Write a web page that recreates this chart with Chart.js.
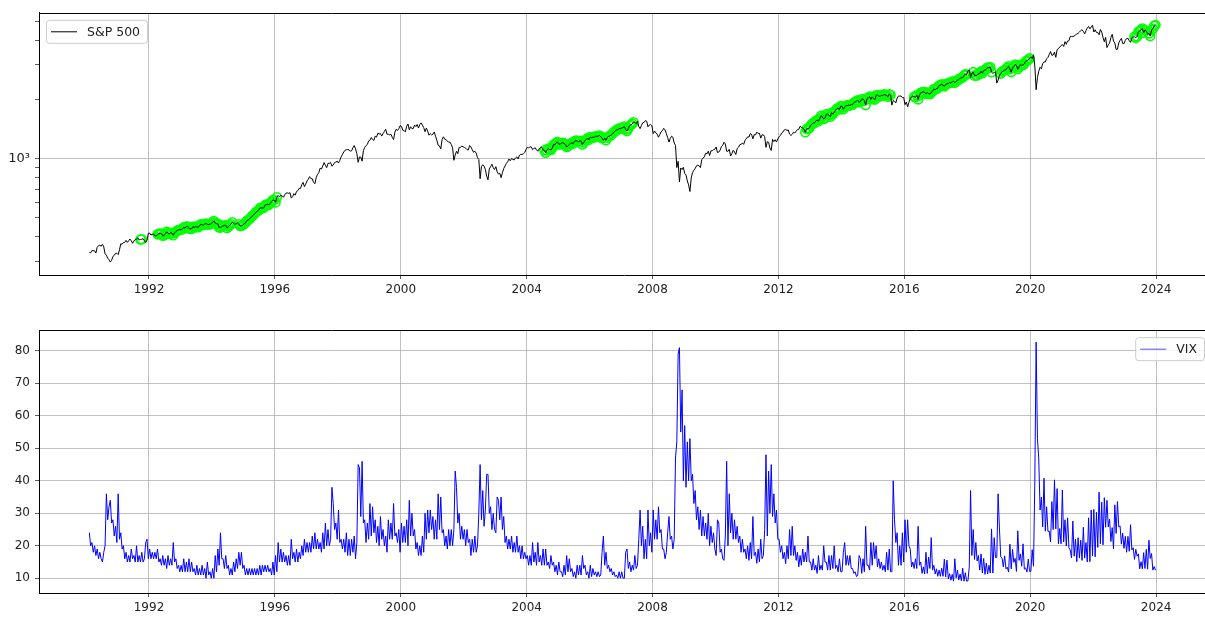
<!DOCTYPE html>
<html>
<head>
<meta charset="utf-8">
<script src="https://cdn.jsdelivr.net/npm/chart.js@4.4.0/dist/chart.umd.min.js"></script>
<style>
  html, body { margin: 0; padding: 0; background: #fff; overflow: hidden; }
  #wrap { position: relative; width: 1205px; height: 617px; overflow: hidden; }
  canvas { position: absolute; left: 0; }
  #spxCanvas { top: 0; }
  #vixCanvas { top: 318px; }
</style>
</head>
<body>
<div id="wrap">
  <canvas id="spxCanvas" width="1216" height="300"></canvas>
  <canvas id="vixCanvas" width="1216" height="299"></canvas>
</div>
<script>
// ---- Data: two readings per month (mid, end), Feb 1990 .. Dec 2023 ----
const startYear = 1990;
const startMonth = 1; // 0 = Jan, so 1 = Feb

const spx = [
  333,332, 341,340, 340,331, 354,361, 363,358, 367,356, 328,323, 312,306, 298,304, 318,322, 330,330,
  325,344, 369,367, 374,375, 384,375, 382,390, 382,371, 381,388, 390,395, 386,388, 389,392, 382,375, 385,417,
  418,409, 412,413, 405,404, 412,415, 416,415, 405,408, 414,424, 418,414, 420,418, 408,419, 425,431, 433,436,
  435,439, 447,443, 452,452, 441,440, 440,450, 447,451, 449,448, 454,464, 461,459, 465,468, 463,462, 464,466,
  474,482, 470,467, 466,446, 447,451, 455,457, 458,444, 451,458, 464,475, 469,463, 466,472, 464,454, 455,459,
  466,470, 482,487, 492,501, 509,515, 525,533, 540,545, 560,562, 560,562, 580,584, 585,582, 593,605, 616,616,
  599,636, 650,640, 651,646, 636,654, 668,669, 666,671, 630,640, 663,652, 681,687, 705,705, 737,757, 720,741,
  770,786, 809,791, 790,757, 745,801, 830,848, 894,885, 917,954, 925,899, 945,947, 955,915, 928,955, 960,970,
  950,980, 1020,1049, 1080,1102, 1110,1112, 1108,1091, 1095,1134, 1165,1121, 1060,957, 1020,1017, 970,1099, 1140,1164, 1180,1229,
  1240,1280, 1250,1238, 1300,1286, 1345,1335, 1340,1302, 1340,1373, 1410,1329, 1330,1320, 1330,1283, 1250,1363, 1410,1389, 1420,1469,
  1460,1394, 1390,1366, 1460,1499, 1400,1452, 1420,1421, 1480,1455, 1490,1431, 1490,1518, 1480,1437, 1370,1429, 1380,1315, 1340,1320,
  1330,1366, 1300,1240, 1170,1160, 1120,1249, 1290,1256, 1250,1224, 1215,1211, 1180,1134, 980,1041, 1090,1060, 1140,1139, 1160,1148,
  1140,1130, 1110,1107, 1165,1147, 1110,1077, 1090,1067, 1010,990, 790,912, 930,916, 880,815, 780,886, 910,936, 900,880,
  910,856, 835,841, 800,848, 890,917, 945,964, 995,975, 1000,990, 985,1008, 1020,996, 1040,1051, 1050,1058, 1075,1112,
  1140,1131, 1150,1145, 1110,1126, 1135,1107, 1090,1121, 1135,1141, 1105,1102, 1070,1104, 1125,1115, 1105,1130, 1180,1174, 1205,1212,
  1185,1181, 1200,1204, 1195,1181, 1145,1157, 1180,1192, 1205,1191, 1225,1234, 1230,1220, 1230,1229, 1180,1207, 1235,1249, 1270,1248,
  1285,1280, 1285,1281, 1300,1295, 1300,1311, 1290,1270, 1240,1270, 1240,1277, 1300,1304, 1320,1336, 1365,1378, 1400,1401, 1425,1418,
  1430,1438, 1455,1407, 1380,1421, 1470,1482, 1505,1531, 1530,1503, 1550,1455, 1420,1474, 1520,1527, 1560,1549, 1450,1481, 1490,1468,
  1340,1379, 1350,1331, 1285,1323, 1370,1386, 1425,1400, 1340,1280, 1215,1267, 1300,1283, 1200,1166, 900,969, 760,896, 880,903,
  840,826, 770,735, 680,798, 850,873, 890,919, 925,919, 900,987, 1005,1021, 1065,1057, 1090,1036, 1095,1096, 1110,1115,
  1145,1074, 1080,1104, 1150,1169, 1210,1187, 1090,1089, 1115,1031, 1060,1102, 1080,1049, 1125,1141, 1175,1183, 1200,1181, 1240,1258,
  1290,1286, 1340,1327, 1260,1326, 1320,1364, 1340,1345, 1270,1321, 1320,1292, 1140,1219, 1210,1131, 1100,1253, 1220,1247, 1215,1258,
  1290,1312, 1350,1366, 1400,1408, 1390,1398, 1330,1310, 1330,1362, 1350,1379, 1405,1407, 1460,1441, 1430,1412, 1360,1416, 1420,1426,
  1470,1498, 1520,1515, 1555,1569, 1550,1598, 1650,1631, 1590,1606, 1680,1686, 1660,1633, 1710,1682, 1720,1757, 1790,1806, 1775,1848,
  1840,1783, 1830,1859, 1860,1872, 1860,1884, 1880,1924, 1940,1960, 1980,1931, 1950,2003, 2010,1972, 1870,2018, 2040,2068, 2000,2059,
  2020,1995, 2095,2105, 2080,2068, 2100,2086, 2120,2107, 2100,2063, 2125,2104, 1870,1972, 1960,1920, 2030,2079, 2080,2080, 2040,2044,
  1880,1940, 1830,1932, 2020,2060, 2080,2065, 2050,2097, 2000,2099, 2160,2174, 2185,2171, 2130,2168, 2135,2126, 2170,2199, 2260,2239,
  2270,2279, 2350,2364, 2385,2363, 2330,2384, 2400,2412, 2435,2423, 2460,2470, 2430,2472, 2500,2519, 2560,2575, 2585,2648, 2680,2674,
  2790,2824, 2580,2714, 2750,2641, 2650,2648, 2710,2705, 2780,2718, 2800,2816, 2850,2902, 2900,2914, 2750,2712, 2740,2760, 2420,2507,
  2650,2704, 2770,2784, 2820,2834, 2900,2946, 2850,2752, 2890,2942, 3010,2980, 2850,2926, 3000,2977, 2990,3038, 3120,3141, 3190,3231,
  3290,3226, 3370,2954, 2240,2585, 2780,2912, 2860,3044, 3100,3100, 3220,3271, 3380,3500, 3350,3363, 3480,3270, 3580,3622, 3690,3756,
  3800,3714, 3930,3811, 3960,3973, 4170,4181, 4170,4204, 4250,4298, 4330,4395, 4470,4523, 4430,4308, 4470,4605, 4700,4567, 4670,4766,
  4400,4516, 4380,4374, 4260,4530, 4390,4132, 3930,4132, 3670,3785, 3860,4130, 4280,3955, 3870,3586, 3600,3872, 3990,4080, 3850,3840,
  3990,4077, 4090,3970, 3900,4109, 4150,4169, 4110,4180, 4410,4450, 4510,4589, 4370,4508, 4450,4288, 4330,4194, 4510,4568, 4720,4770
];

const vix = [
  24,20, 21,18, 20,17, 19,16, 18,16, 15,18, 20,36, 28,32, 34,27, 28,23, 26,21,
  36,22, 24,19, 20,16, 18,15, 17,15, 19,16, 17,15, 20,15, 17,15, 18,15, 16,21, 22,16,
  19,16, 18,16, 18,16, 19,15, 16,14, 17,14, 16,13, 17,14, 16,14, 21,15, 16,13, 14,12,
  14,12, 16,12, 15,12, 16,12, 15,12, 13,11, 14,11, 13,11, 14,11, 13,10, 15,11, 12,10,
  13,10, 17,12, 19,14, 24,16, 16,13, 17,13, 14,11, 13,11, 15,12, 16,13, 18,14, 18,13,
  14,11, 13,11, 13,11, 13,11, 13,11, 13,11, 14,11, 14,12, 14,12, 14,12, 13,11, 15,11,
  17,12, 21,15, 19,15, 18,15, 17,14, 17,14, 22,16, 18,15, 19,15, 18,16, 20,17, 22,18,
  21,18, 21,18, 23,19, 24,19, 22,19, 21,18, 24,19, 27,20, 25,20, 22,38, 33,25, 27,22,
  31,21, 22,19, 22,18, 24,17, 22,17, 22,18, 23,16, 21,45, 44,29, 46,27, 28,21, 27,22,
  33,23, 32,24, 28,21, 26,20, 29,22, 25,20, 23,18, 28,22, 27,22, 33,23, 24,21, 25,18,
  27,21, 26,21, 28,20, 34,23, 30,23, 25,19, 21,17, 20,17, 23,18, 30,22, 31,24, 31,25,
  29,22, 28,22, 36,25, 35,24, 25,20, 23,19, 25,20, 25,20, 25,43, 38,27, 30,22, 26,22,
  25,20, 25,21, 22,17, 22,18, 23,18, 20,30, 45,28, 37,26, 31,42, 42,30, 32,25, 30,25,
  24,35, 34,28, 35,25, 29,21, 23,19, 22,19, 23,18, 21,18, 23,18, 20,16, 20,16, 18,16,
  17,14, 17,14, 21,15, 18,14, 21,15, 17,14, 19,14, 19,14, 15,13, 17,14, 15,12, 14,11,
  15,12, 12,10.5, 14,11, 17,12, 16,12, 13,10.5, 12,10, 14,11, 14,11, 17,13, 14,11, 12,10,
  14,10.5, 13,11, 12,10.5, 12,10.5, 11,18, 23,14, 18,13, 14,12, 13,11, 12,10.5, 11,10, 12,10,
  12,10, 10,18, 19,13, 15,12, 14,12.5, 17,13, 14,22, 31,20, 26,16, 22,16, 31,20, 24,18,
  31,22, 28,22, 32,24, 25,19, 19,16, 18,24, 29,22, 23,19, 22,47, 52,79, 81,55, 68,40,
  57,38, 52,40, 53,40, 42,33, 37,28, 32,25, 31,23, 29,23, 27,22, 30,20, 26,21, 24,19,
  17,28, 27,18, 19,16, 15.5,23, 46,20, 36,24, 30,22, 28,22, 26,21, 23,18, 22,18, 19,16,
  20,15.5, 21,16, 29,17, 18,14.6, 19,15, 22,16, 17,25, 48,23, 43,30, 45,29, 36,27, 31,22,
  22,18, 20,16, 18,14.5, 20,16, 25,17, 26,17, 20,15.5, 18,13.5, 17,14, 19,15, 18,15, 23,15,
  15,12.5, 16,12.5, 14,11.5, 17,12.5, 14,12.5, 20,15, 15,12.5, 17,12.5, 17,13, 20,13, 14,12, 16,12,
  12,18, 21,14, 17,14, 17,13, 13,11.5, 12,10.5, 11,17, 16,11.5, 16,12, 26,14, 14,12.5, 21,14,
  21,16, 20,13.5, 16,13, 15,12.5, 14,12, 18,12.5, 19,12, 12,40, 28,21, 24,14, 20,14, 24,15,
  28,18, 28,20, 19,13.5, 15,13, 16,13, 26,14, 15,11.5, 13.5,11.3, 18,11.5, 16.5,13, 22.5,12.5, 14,11.3,
  12.9,10.6, 12.5,10.6, 13.1,10.6, 15.9,10.4, 15.6,9.8, 11.4,9.4, 11.2,9.1, 16,10.1, 12.5,9.5, 11.3,9.2, 13.1,9.1, 11.7,9.1,
  9.2,13.5, 37,17, 25,15.8, 21,15.3, 17,12.5, 17.5,11.6, 16.1,11.2, 14.7,11.3, 14,11.6, 25.2,11.6, 22.5,16.4, 16.4,36,
  25.5,16.6, 16.2,13.5, 16.9,12.9, 13.4,11.9, 20.5,12.9, 18.9,14.9, 16.1,12.1, 24.6,15.5, 17.5,13.7, 20.6,12.8, 13.2,11.9, 15.9,12.1,
  12.1,18.8, 13.7,40, 82.7,53, 46.8,31, 35,25.8, 40.8,24.5, 32,24.4, 24.5,21.2, 33.6,25, 40.3,25.2, 37.6,20.6, 25.3,20.6,
  37.2,21.2, 28,19.9, 28.6,19.4, 18.7,16.3, 27.6,16.8, 22,15.1, 22.5,16.2, 21.7,15.5, 25.7,16.2, 21,15, 28.6,15.1, 31,16.9,
  31.2,16.6, 30.3,19.5, 36.5,20.6, 33.4,20.3, 34.8,25.7, 34,25.8, 28.2,21.3, 25.6,19.1, 32.6,23.8, 33.6,25.8, 26.1,20.5, 23.9,19.2,
  22.9,18, 22.9,18.3, 26.5,18.7, 19.4,15.8, 18.9,16.8, 17.5,12.9, 15.1,12.9, 17.9,13, 18.9,12.8, 21.7,16.1, 17.6,12.5, 13.6,12.5
];

// low-volatility stretches marked in green on the S&P line [from, to] (decimal year)
const greenPeriods = [
  [1991.70, 1991.80], [1992.25, 1994.67], [1994.85, 1996.10],
  [2004.55, 2006.40], [2006.50, 2007.40], [2012.85, 2015.60],
  [2016.30, 2018.00], [2018.15, 2018.80], [2019.05, 2020.00],
  [2023.30, 2023.65], [2023.75, 2024.00]
];

const yearTicks = [1992, 1996, 2000, 2004, 2008, 2012, 2016, 2020, 2024];
const spxTicks = [300, 400, 500, 600, 700, 800, 900, 1000, 2000, 3000, 4000, 5000];
const vixTicks = [10, 20, 30, 40, 50, 60, 70, 80];

// ---- helpers ----
function timeAt(i) {
    const m = startMonth + Math.floor(i / 2);
    return startYear + (m + 0.25 + 0.5 * (i % 2)) / 12;
}
const spxPoints = spx.map((v, i) => ({ x: timeAt(i), y: v }));
const vixPoints = vix.map((v, i) => ({ x: timeAt(i), y: v }));
const greenPoints = spxPoints.filter(p => greenPeriods.some(r => p.x >= r[0] && p.x <= r[1]));

const FONT = { family: 'DejaVu Sans', size: 12 };
const X_MIN = 1988.505, X_MAX = 2025.68;

// draws the top spine and a matplotlib-like legend box inside the axes
const frameLegend = {
    id: 'frameLegend',
    afterDatasetsDraw(chart, args, opts) {
        const { ctx, chartArea: a } = chart;
        ctx.save();
        ctx.strokeStyle = '#000';
        ctx.lineWidth = 1;
        ctx.beginPath();
        ctx.moveTo(a.left, Math.round(a.top) + 0.5);
        ctx.lineTo(a.right, Math.round(a.top) + 0.5);
        ctx.stroke();

        ctx.font = '12.5px "DejaVu Sans"';
        const tw = ctx.measureText(opts.label).width;
        const w = 5 + 26 + 10 + tw + 7, h = 23;
        const x = opts.side === 'right' ? a.right - 5 - w : a.left + 7;
        const y = a.top + 7;
        ctx.beginPath();
        ctx.roundRect(x + 0.5, y + 0.5, w, h, 3);
        ctx.fillStyle = 'rgba(255,255,255,0.8)';
        ctx.fill();
        ctx.strokeStyle = '#cccccc';
        ctx.stroke();
        ctx.beginPath();
        ctx.strokeStyle = opts.color;
        ctx.lineWidth = opts.lineWidth;
        ctx.moveTo(x + 5, y + h / 2 + 0.5);
        ctx.lineTo(x + 31, y + h / 2 + 0.5);
        ctx.stroke();
        ctx.fillStyle = '#222';
        ctx.textBaseline = 'middle';
        ctx.fillText(opts.label, x + 41, y + h / 2 + 1);
        ctx.restore();
    }
};

function xScale(height) {
    return {
        type: 'linear',
        min: X_MIN, max: X_MAX,
        afterBuildTicks: s => { s.ticks = yearTicks.map(v => ({ value: v })); },
        afterFit: s => { s.height = height; },
        ticks: { autoSkip: false, maxRotation: 0, padding: 4, color: '#222', font: FONT, callback: v => String(v) },
        grid: { color: '#b0b0b0', lineWidth: 0.8, tickColor: '#333', tickLength: 4 },
        border: { color: '#000', width: 1 }
    };
}

new Chart(document.getElementById('spxCanvas'), {
    type: 'line',
    data: {
        datasets: [
            { label: 'S&P 500', data: spxPoints, borderColor: '#000', borderWidth: 1, pointRadius: 0, tension: 0 },
            { label: 'low vol', data: greenPoints, showLine: false, pointRadius: 4.5, pointBorderWidth: 1.6,
              pointBorderColor: '#00ff00', pointBackgroundColor: 'rgba(0,0,0,0)' }
        ]
    },
    options: {
        responsive: false,
        animation: false,
        layout: { padding: { left: 0, top: 11, right: 7, bottom: 0 } },
        plugins: {
            legend: { display: false },
            tooltip: { enabled: false },
            frameLegend: { label: 'S&P 500', color: '#000', lineWidth: 1, side: 'left' }
        },
        scales: {
            x: xScale(25),
            y: {
                type: 'logarithmic',
                min: 256, max: 5510,
                afterBuildTicks: s => { s.ticks = spxTicks.map(v => ({ value: v })); },
                afterFit: s => { s.width = 39; },
                ticks: { autoSkip: false, padding: 5, color: '#222',
                         font: { family: 'DejaVu Sans', size: 13 },
                         callback: v => (v === 1000 ? '10³' : '') },
                grid: { color: c => (c.tick && c.tick.value === 1000 ? '#b0b0b0' : 'rgba(0,0,0,0)'),
                        lineWidth: 0.8, tickColor: '#333', tickLength: 4 },
                border: { color: '#000', width: 1 }
            }
        }
    },
    plugins: [frameLegend]
});

new Chart(document.getElementById('vixCanvas'), {
    type: 'line',
    data: {
        datasets: [
            { label: 'VIX', data: vixPoints, borderColor: '#0000ff', borderWidth: 1, pointRadius: 0, tension: 0 }
        ]
    },
    options: {
        responsive: false,
        animation: false,
        layout: { padding: { left: 0, top: 11, right: 7, bottom: 0 } },
        plugins: {
            legend: { display: false },
            tooltip: { enabled: false },
            frameLegend: { label: 'VIX', color: '#4d4dff', lineWidth: 1, side: 'right' }
        },
        scales: {
            x: xScale(24),
            y: {
                type: 'linear',
                min: 5.46, max: 86.37,
                afterBuildTicks: s => { s.ticks = vixTicks.map(v => ({ value: v })); },
                afterFit: s => { s.width = 39; },
                ticks: { autoSkip: false, padding: 5, color: '#222', font: FONT },
                grid: { color: '#b0b0b0', lineWidth: 0.8, tickColor: '#333', tickLength: 4 },
                border: { color: '#000', width: 1 }
            }
        }
    },
    plugins: [frameLegend]
});
</script>
</body>
</html>
